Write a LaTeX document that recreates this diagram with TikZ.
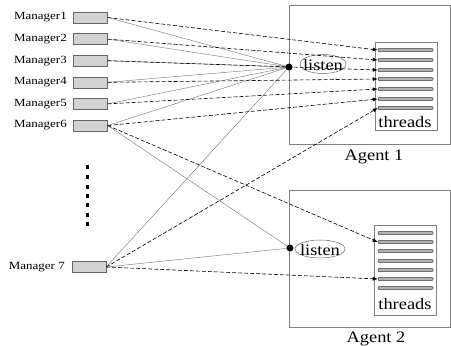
\documentclass[tikz,border=0pt]{standalone}
\usepackage{fontspec}
\setmainfont{Liberation Serif}
\newfontfamily\wideserif[FakeStretch=1.18]{Liberation Serif}
\newfontfamily\bigserif[FakeStretch=1.15]{Liberation Serif}
\newfontfamily\agentserif[FakeStretch=1.15]{Liberation Serif}
\usetikzlibrary{arrows.meta,shapes.geometric}
\begin{document}
\begin{tikzpicture}[x=1pt,y=-1pt,
  mgrbox/.style={draw=black!60, fill=gray!35, minimum width=34pt, minimum height=11pt, inner sep=0pt},
  mgrlabel/.style={font=\wideserif\fontsize{11}{13}\selectfont, anchor=east, inner sep=0pt},
  agentbox/.style={draw=black!50, line width=0.5pt},
  thrbox/.style={draw=black!50, line width=0.5pt},
  bar/.style={draw=black!75, fill=gray!60, rounded corners=1pt, minimum width=55pt, minimum height=3.2pt, inner sep=0pt, line width=0.5pt},
  listenline/.style={draw=black!55, line width=0.4pt},
  threadline/.style={draw=black, line width=0.6pt, dash pattern=on 4pt off 2pt, -{Latex[length=5pt,width=4pt]}},
  ldot/.style={circle, fill=black, inner sep=0pt, minimum size=7pt},
  lellipse/.style={ellipse, draw=black!60, line width=0.5pt, inner sep=0pt},
  bigtext/.style={font=\bigserif\fontsize{16}{18}\selectfont, inner sep=0pt},
  agenttext/.style={font=\agentserif\fontsize{16}{18}\selectfont, inner sep=0pt, anchor=base}
]
\useasboundingbox (0,0) rectangle (451,346);

% agent boxes
\draw[agentbox] (289,5) rectangle (450,144);
\draw[agentbox] (289,190) rectangle (450,327);
\node[agenttext] (ag1) at (374,160) {Agent 1};
\node[agenttext] (ag2) at (376,342) {Agent 2};

% thread boxes
\draw[thrbox] (375,42) rectangle (437,130);
\draw[thrbox] (374,225) rectangle (436,315);
\node[bigtext, anchor=base] (th1) at (405,127) {threads};
\node[bigtext, anchor=base] (th2) at (405,309) {threads};

% bars
\foreach \i/\y in {1/50,2/60,3/70,4/79,5/89,6/99,7/108}
  \node[bar] (b1-\i) at (405.5,\y) {};
\foreach \i/\y in {1/233,2/242,3/251,4/261,5/270,6/279,7/288}
  \node[bar] (b2-\i) at (405.5,\y) {};

% listen
\node[lellipse, minimum width=46pt, minimum height=19pt] (e1) at (323,64) {};
\node[bigtext, anchor=base] (t1) at (323,70) {listen};
\node[lellipse, minimum width=50pt, minimum height=18pt] (e2) at (320,249) {};
\node[bigtext, anchor=base] (t2) at (320,255) {listen};
\coordinate (l1) at (289,67);
\coordinate (l2) at (290,248);

% managers
\foreach \i/\y in {1/17.5,2/39.1,3/60.7,4/82.3,5/103.9,6/125.5}{
  \node[mgrbox] (m\i) at (90.5,\y) {};
  \node[mgrlabel] (ml\i) at (67,\y) {Manager\i};
}
\node[mgrbox] (m7) at (89,267) {};
\node[mgrlabel] (ml7) at (65,267) {Manager 7};

% ellipsis dots
\foreach \y in {165,175,185,194,203,213,222}
  \fill (85.5,\y) rectangle (89,\y+3.5);

% listen lines
\foreach \i in {1,...,7}
  \draw[listenline] (m\i.east) -- (l1);
\draw[listenline] (m6.east) -- (l2);
\draw[listenline] (m7.east) -- (l2);

% thread lines
\foreach \i in {1,...,7}
  \draw[threadline] (m\i.east) -- (b1-\i.west);
\draw[threadline] (m6.east) -- (b2-2.west);
\draw[threadline] (m7.east) -- (b2-6.west);

% listen dots
\node[ldot] (d1) at (l1) {};
\node[ldot] (d2) at (l2) {};
\end{tikzpicture}
\end{document}
